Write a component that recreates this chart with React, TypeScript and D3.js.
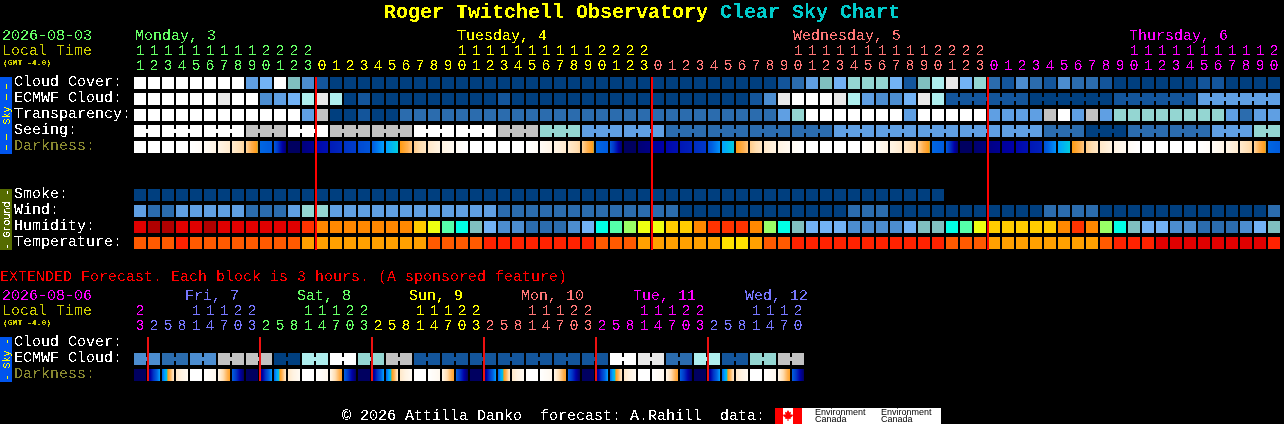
import { useEffect, useRef } from "react";
import * as d3 from "d3";

// hour labels, left to right
const mainHours = [
  11, 12, 13, 14, 15, 16, 17, 18, 19, 20, 21, 22, 23,
  0, 1, 2, 3, 4, 5, 6, 7, 8, 9, 10, 11, 12, 13, 14, 15, 16, 17, 18, 19, 20, 21, 22, 23,
  0, 1, 2, 3, 4, 5, 6, 7, 8, 9, 10, 11, 12, 13, 14, 15, 16, 17, 18, 19, 20, 21, 22, 23,
  0, 1, 2, 3, 4, 5, 6, 7, 8, 9, 10, 11, 12, 13, 14, 15, 16, 17, 18, 19, 20,
];
const extHours = [
  23, 2, 5, 8, 11, 14, 17, 20, 23, 2, 5, 8, 11, 14, 17, 20, 23, 2, 5, 8, 11, 14, 17, 20, 23,
  2, 5, 8, 11, 14, 17, 20, 23, 2, 5, 8, 11, 14, 17, 20, 23, 2, 5, 8, 11, 14, 17, 20,
];

const mainDays = ["Monday, 3", "Tuesday, 4", "Wednesday, 5", "Thursday, 6"];
const mainDayLabelAt = [0, 23, 47, 71];
const mainDayStarts = [0, 13, 37, 61];
const mainDayColors = ["#66ff66", "#ffff00", "#ff7777", "#ff00ff"];

const extDays = ["Fri, 7", "Sat, 8", "Sun, 9", "Mon, 10", "Tue, 11", "Wed, 12"];
const extDayLabelAt = [4, 12, 20, 28, 36, 44];
const extDayStarts = [0, 1, 9, 17, 25, 33, 41];
const extDayColors = ["#ff00ff", "#7777ff", "#66ff66", "#ffff00", "#ff7777", "#ff00ff", "#7777ff"];

// sky rows, levels index into skyColors (0 clear ... 11 overcast)
const cloudCover = [
  11, 11, 11, 11, 11, 11, 11, 11, 4, 5, 11, 6, 3, 1, 0, 0, 0, 0, 0, 0, 0, 0, 0, 0, 0, 0, 0, 0, 0, 0, 0, 0, 0, 0, 0, 0,
  0, 0, 0, 0, 0, 0, 0, 0, 0, 0, 1, 2, 4, 6, 5, 7, 7, 7, 5, 1, 6, 8, 10, 5, 7, 2, 1, 3, 2, 1, 3, 2, 2, 1, 0, 0, 0, 0, 0,
  0, 1, 1, 0, 0, 0, 0,
];
const ecmwfHourly = [
  11, 11, 11, 11, 11, 11, 10, 11, 11, 3, 4, 5, 8, 10, 8, 0, 1, 0, 0, 0, 0, 0, 0, 0, 0, 0, 1, 0, 0, 0, 0, 0, 0, 0, 0, 0,
  0, 0, 0, 0, 0, 0, 0, 0, 1, 3, 10, 11, 11, 11, 10, 8, 4, 3, 3, 5, 10, 8,
];
const ecmwfSixHourly = [1, 0, 1, 4];
const transparency = [
  11, 11, 11, 11, 11, 11, 11, 11, 11, 11, 11, 11, 4, 9, 0, 0, 1, 0, 0, 2, 2, 2, 2, 2, 2, 2, 2, 2, 2, 2, 2, 2, 2, 2, 2, 2,
  2, 2, 2, 2, 2, 2, 2, 2, 2, 2, 4, 7, 11, 11, 11, 11, 11, 11, 11, 4, 11, 11, 11, 11, 11, 4, 4, 4, 4, 9, 11, 4, 9, 4, 7,
  7, 7, 7, 7, 7, 7, 7, 4, 2, 4, 4,
];
const seeing = [11, 11, 11, 9, 11, 9, 9, 11, 11, 9, 7, 4, 4, 2, 2, 2, 2, 4, 4, 4, 4, 4, 2, 0, 2, 2, 4, 7];
const seeingHours = [2, 3, 3, 3, 3, 3, 3, 3, 3, 3, 3, 3, 3, 3, 3, 3, 3, 3, 3, 3, 3, 3, 3, 3, 3, 3, 3, 2];

// darkness: sky level at the left and right edge of each block (0 day ... 9 full dark)
const darkStart = [
  0, 0, 0, 0, 0, 0.3, 0.9, 1.4, 2.2, 5.9, 6.2, 9, 8.6, 7.9, 7.5, 7.1, 6.6, 6.1, 5, 3.9, 2.4, 1.5, 1, 0.4,
  0, 0, 0, 0, 0, 0.3, 0.9, 1.4, 2.2, 5.9, 6.2, 9, 8.7, 8.2, 7.9, 7.6, 7.2, 6.4, 5, 3.9, 2.4, 1.5, 1, 0.4,
  0, 0, 0, 0, 0, 0.3, 0.9, 1.4, 2.2, 5.9, 6.2, 9, 8.8, 8.5, 8.2, 7.9, 7.6, 6.4, 5, 3.9, 2.4, 1.5, 1, 0.4,
  0, 0, 0, 0, 0, 0.3, 0.9, 1.4, 2.2, 5.9,
];
const darkEnd = [
  0, 0, 0, 0, 0.3, 0.9, 1.4, 2.2, 4, 6.1, 8.8, 9, 8.3, 7.7, 7.3, 6.9, 6.3, 5, 4, 2.5, 1.6, 1, 0.5, 0,
  0, 0, 0, 0, 0.3, 0.9, 1.4, 2.2, 4, 6.1, 8.8, 9, 8.5, 8, 7.7, 7.4, 7, 5.2, 4, 2.5, 1.6, 1, 0.5, 0,
  0, 0, 0, 0, 0.3, 0.9, 1.4, 2.2, 4, 6.1, 8.8, 9, 8.6, 8.3, 8, 7.7, 7.4, 5.2, 4, 2.5, 1.6, 1, 0.5, 0,
  0, 0, 0, 0, 0.3, 0.9, 1.4, 2.2, 4, 6.1,
];

// ground rows
const smoke = [
  0, 0, 0, 0, 0, 0, 0, 0, 0, 0, 0, 0, 0, 0, 0, 0, 0, 0, 0, 0, 0, 0, 0, 0, 0, 0, 0, 0, 0, 0, 0, 0, 0, 0, 0, 0, 0, 0, 0,
  0, 0, 0, 0, 0, 0, 0, 0, 0, 0, 0, 0, 0, 0, 0, 0, 0, 0, 0,
];
const wind = [
  4, 2, 2, 4, 4, 4, 4, 4, 2, 2, 2, 4, 7, 7, 4, 4, 4, 4, 4, 4, 4, 4, 4, 4, 4, 4, 2, 2, 2, 2, 2, 2, 2, 2, 2, 2, 2, 2, 2,
  0, 0, 0, 0, 0, 0, 0, 0, 0, 0, 0, 0, 2, 2, 2, 0, 0, 0, 0, 0, 0, 0, 0, 0, 0, 0, 2, 2, 2, 2, 0, 0, 0, 0, 0, 0, 0, 0, 0,
  0, 0, 0, 2,
];
const humidity = [
  11, 12, 12, 11, 11, 12, 11, 11, 11, 11, 11, 11, 10, 9, 9, 9, 9, 9, 9, 9, 8, 7, 5, 4, 3, 2, 1, 1, 0, 0, 0, 1, 2, 4, 5,
  6, 7, 7, 8, 8, 9, 10, 10, 10, 9, 6, 4, 3, 2, 2, 2, 1, 1, 1, 1, 2, 3, 3, 4, 5, 7, 8, 8, 8, 8, 8, 9, 10, 9, 6, 4, 3, 2,
  2, 1, 1, 0, 0, 0, 1, 2, 3,
];
const temperature = [
  2, 2, 2, 1, 2, 2, 2, 2, 2, 2, 2, 2, 3, 3, 3, 3, 3, 3, 3, 3, 3, 2, 2, 2, 2, 1, 1, 1, 1, 1, 1, 1, 1, 2, 2, 2, 3, 3, 3,
  3, 3, 3, 4, 4, 3, 2, 2, 1, 1, 1, 1, 1, 1, 1, 1, 1, 1, 1, 2, 2, 2, 3, 3, 3, 3, 3, 3, 3, 3, 2, 1, 1, 1, 0, 0, 0, 0, 0,
  0, 0, 0, 1,
];

// extended forecast, 3h blocks
const extCloud = [3, 2, 3, 9, 9, 0, 8, 11, 7, 9, 1, 1, 1, 1, 1, 1, 1, 11, 10, 2, 8, 1, 7, 9];
const extDarkStart = [
  9, 8.8, 6, 1.5, 0, 0, 0.8, 6, 9, 8.8, 6, 1.5, 0, 0, 0.8, 6, 9, 8.8, 6, 1.5, 0, 0, 0.8, 6,
  9, 8.8, 6, 1.5, 0, 0, 0.8, 6, 9, 8.8, 6, 1.5, 0, 0, 0.8, 6, 9, 8.8, 6, 1.5, 0, 0, 0.8, 6,
];
const extDarkEnd = [
  9, 5, 1.5, 0.4, 0, 0.6, 3.6, 9, 9, 5, 1.5, 0.4, 0, 0.6, 3.6, 9, 9, 5, 1.5, 0.4, 0, 0.6, 3.6, 9,
  9, 5, 1.5, 0.4, 0, 0.6, 3.6, 9, 9, 5, 1.5, 0.4, 0, 0.6, 3.6, 9, 9, 5, 1.5, 0.4, 0, 0.6, 3.6, 9,
];

const skyColors = [
  "#003f7f", "#13559b", "#2b6cae", "#4c8dd0", "#5f9fe3", "#72b2f5",
  "#80bfbf", "#94d6d2", "#aeeeee", "#c2c2c2", "#e8e8e8", "#ffffff",
];
const humidityColors = [
  "#2b6cae", "#4c8dd0", "#72b2f5", "#80bfbf", "#00ffe5", "#55ffaa", "#99ff66",
  "#eeff11", "#ffcc00", "#ff8800", "#ff3300", "#e00000", "#b00000",
];
const temperatureColors = ["#e00000", "#ff2200", "#ff5a00", "#ffa000", "#ffe000"];

const darkLevels = [0, 1, 2, 3, 3.9, 4, 5, 6, 7, 8, 9];
const darkColors = [
  "#ffffff", "#fff3e2", "#ffddb0", "#ffb050", "#ff9a10", "#00ccdd",
  "#00a0ff", "#0060e0", "#0038c8", "#0000a8", "#000060",
];

const MONO = "'Liberation Mono', monospace";
const BLOCK = 12;
const PITCH = 14;

type Sel = d3.Selection<SVGGElement, unknown, null, undefined>;

const App = () => {
  const ref = useRef<SVGSVGElement | null>(null);

  useEffect(() => {
    document.body.style.margin = "0";
    document.body.style.background = "#000";
    if (!ref.current) return;
    const svg = d3.select(ref.current);
    svg.selectAll("*").remove();

    const x = d3.scaleLinear().domain([0, 1]).range([134, 134 + PITCH]);
    const sky = d3.scaleOrdinal<number, string>().domain(d3.range(12)).range(skyColors);
    const hum = d3.scaleOrdinal<number, string>().domain(d3.range(13)).range(humidityColors);
    const temp = d3.scaleOrdinal<number, string>().domain(d3.range(5)).range(temperatureColors);
    const dark = d3.scaleLinear<string>().domain(darkLevels).range(darkColors).interpolate(d3.interpolateRgb);

    // hard edged text, the original is a bitmap font
    const filter = svg.append("defs").append("filter").attr("id", "crisp");
    filter.attr("x", "-5%").attr("y", "-20%").attr("width", "110%").attr("height", "140%");
    filter.attr("color-interpolation-filters", "sRGB");
    filter
      .append("feComponentTransfer")
      .append("feFuncA")
      .attr("type", "discrete")
      .attr("tableValues", "0 0 1 1");

    const blocks = svg.append("g").attr("shape-rendering", "crispEdges");
    const texts: Sel = svg.append("g").attr("filter", "url(#crisp)").attr("font-family", MONO);

    const label = (
      t: string,
      tx: number,
      ty: number,
      fill: string,
      size = 15,
      anchor = "start",
      weight = "normal",
    ) =>
      texts
        .append("text")
        .attr("x", tx)
        .attr("y", ty)
        .attr("fill", fill)
        .attr("font-size", size)
        .attr("font-weight", weight)
        .attr("text-anchor", anchor)
        .style("white-space", "pre")
        .text(t);

    // a row of blocks; blocks inside one run are joined by a small bridge
    const drawRow = (values: number[], color: (v: number) => string, y: number, runs?: number[]) => {
      const lens = runs ?? values.map(() => 1);
      let at = 0;
      values.forEach((v, r) => {
        const len = lens[r];
        d3.range(len).forEach(k => {
          blocks
            .append("rect")
            .attr("x", x(at + k))
            .attr("y", y)
            .attr("width", BLOCK)
            .attr("height", BLOCK)
            .attr("fill", color(v));
          if (k < len - 1) {
            blocks
              .append("rect")
              .attr("x", x(at + k) + BLOCK)
              .attr("y", y + 4)
              .attr("width", PITCH - BLOCK)
              .attr("height", 4)
              .attr("fill", color(v));
          }
        });
        at += len;
      });
    };

    // each darkness block is stepped pixel by pixel between its two edge levels
    const drawDarkness = (starts: number[], ends: number[], y: number) => {
      starts.forEach((s, i) => {
        const t = d3.scaleLinear().domain([0, BLOCK]).range([s, ends[i]]);
        blocks
          .selectAll(null)
          .data(d3.range(BLOCK))
          .enter()
          .append("rect")
          .attr("x", p => x(i) + p)
          .attr("y", y)
          .attr("width", 1)
          .attr("height", BLOCK)
          .attr("fill", p => dark(t(p + 0.5)));
      });
    };

    const drawHours = (hours: number[], starts: number[], colors: string[], tensY: number, unitsY: number) => {
      hours.forEach((h, i) => {
        const fill = colors[d3.bisectRight(starts, i) - 1];
        if (h >= 10) label(String(Math.floor(h / 10)), x(i) + BLOCK / 2, tensY, fill, 15, "middle");
        label(String(h % 10), x(i) + BLOCK / 2, unitsY, fill, 15, "middle");
      });
    };

    const sideBar = (top: number, h: number, fill: string, textFill: string, parts: [string, number, number][]) => {
      blocks.append("rect").attr("x", 0).attr("y", top).attr("width", 12).attr("height", h).attr("fill", fill);
      const t = texts
        .append("text")
        .attr("transform", `translate(10, ${top + h / 2}) rotate(-90)`)
        .attr("text-anchor", "middle")
        .attr("fill", textFill)
        .style("white-space", "pre");
      parts.forEach(([s, size, spacing]) =>
        t.append("tspan").attr("font-size", size).attr("letter-spacing", spacing).text(s),
      );
    };

    // title
    label("Roger Twitchell Observatory", 384, 18, "#ffff00", 20, "start", "bold");
    label("Clear Sky Chart", 720, 18, "#00cccc", 20, "start", "bold");

    // main header
    label("2026-08-03", 2, 40, "#66ff66");
    label("Local Time", 2, 55, "#cccc00");
    label("(GMT -4.0)", 3, 65, "#cccc00", 8, "start", "bold");
    mainDays.forEach((d, i) => label(d, x(mainDayLabelAt[i]) + 1, 40, mainDayColors[i]));
    drawHours(mainHours, mainDayStarts, mainDayColors, 55, 70);

    // sky rows
    sideBar(77, 77, "#0055ee", "#ffff00", [["\u2013\u2013", 12, 3], [" Sky ", 10, 0], ["\u2013\u2013", 12, 3]]);
    const skyLabels = ["Cloud Cover:", "ECMWF Cloud:", "Transparency:", "Seeing:"];
    skyLabels.forEach((t, i) => label(t, 14, 86 + i * 16, "#ffffff"));
    label("Darkness:", 14, 150, "#888830");
    const skyFill = (v: number) => sky(v);
    drawRow(cloudCover, skyFill, 77);
    drawRow(
      [...ecmwfHourly, ...ecmwfSixHourly],
      skyFill,
      93,
      [...ecmwfHourly.map(() => 1), ...ecmwfSixHourly.map(() => 6)],
    );
    drawRow(transparency, skyFill, 109);
    drawRow(seeing, skyFill, 125, seeingHours);
    drawDarkness(darkStart, darkEnd, 141);

    // ground rows
    sideBar(189, 61, "#556b00", "#ffffff", [["- Ground -", 10, 0]]);
    ["Smoke:", "Wind:", "Humidity:", "Temperature:"].forEach((t, i) => label(t, 14, 198 + i * 16, "#ffffff"));
    drawRow(smoke, skyFill, 189);
    drawRow(wind, skyFill, 205);
    drawRow(humidity, v => hum(v), 221);
    drawRow(temperature, v => temp(v), 237);

    // midnight lines, main chart
    mainHours.forEach((h, i) => {
      if (h === 0 && i > 0) {
        blocks.append("rect").attr("x", x(i) - 1).attr("y", 77).attr("width", 2).attr("height", 173).attr("fill", "#ff0000");
      }
    });

    // extended forecast
    label("EXTENDED Forecast. Each block is 3 hours. (A sponsored feature)", 0, 281, "#ff0000");
    label("2026-08-06", 2, 300, "#ff00ff");
    label("Local Time", 2, 315, "#cccc00");
    label("(GMT -4.0)", 3, 325, "#cccc00", 8, "start", "bold");
    extDays.forEach((d, i) => label(d, x(extDayLabelAt[i]) - 5, 300, extDayColors[i + 1]));
    drawHours(extHours, extDayStarts, extDayColors, 315, 330);

    sideBar(337, 45, "#0055ee", "#ffff00", [["- Sky -", 10, 0]]);
    label("Cloud Cover:", 14, 346, "#ffffff");
    label("ECMWF Cloud:", 14, 362, "#ffffff");
    label("Darkness:", 14, 378, "#888830");
    drawRow(extCloud, skyFill, 353, extCloud.map(() => 2));
    drawDarkness(extDarkStart, extDarkEnd, 369);

    extHours.forEach((h, i) => {
      if (h === 2 && i % 8 === 1) {
        blocks.append("rect").attr("x", x(i) - 1).attr("y", 337).attr("width", 2).attr("height", 44).attr("fill", "#ee1111");
      }
    });

    // footer
    label("\u00a9 2026 Attilla Danko  forecast: A.Rahill  data:", 342, 420, "#ffffff");
    const logo = svg.append("g");
    logo.append("rect").attr("x", 775).attr("y", 408).attr("width", 166).attr("height", 16).attr("fill", "#ffffff");
    logo.append("rect").attr("x", 775).attr("y", 408).attr("width", 8).attr("height", 16).attr("fill", "#ff0000");
    logo.append("rect").attr("x", 793).attr("y", 408).attr("width", 9).attr("height", 16).attr("fill", "#ff0000");
    logo
      .append("path")
      .attr("d", "M788 410l1.5 2.5 1.5-.7-.5 3 1.8-.6.7 1.6-2.5 2 .3 1.2-2.3-.3v2.3h-1v-2.3l-2.3.3.3-1.2-2.5-2 .7-1.6 1.8.6-.5-3 1.5.7z")
      .attr("fill", "#ff0000");
    [815, 881].forEach(lx => {
      ["Environment", "Canada"].forEach((t, i) => {
        logo
          .append("text")
          .attr("x", lx)
          .attr("y", 415 + i * 7)
          .attr("font-family", "'Liberation Sans', sans-serif")
          .attr("font-size", 9)
          .attr("fill", "#000000")
          .text(t);
      });
    });
  }, []);

  return <svg ref={ref} width={1284} height={424} viewBox="0 0 1284 424" style={{ display: "block", background: "#000" }} />;
};

export default App;
